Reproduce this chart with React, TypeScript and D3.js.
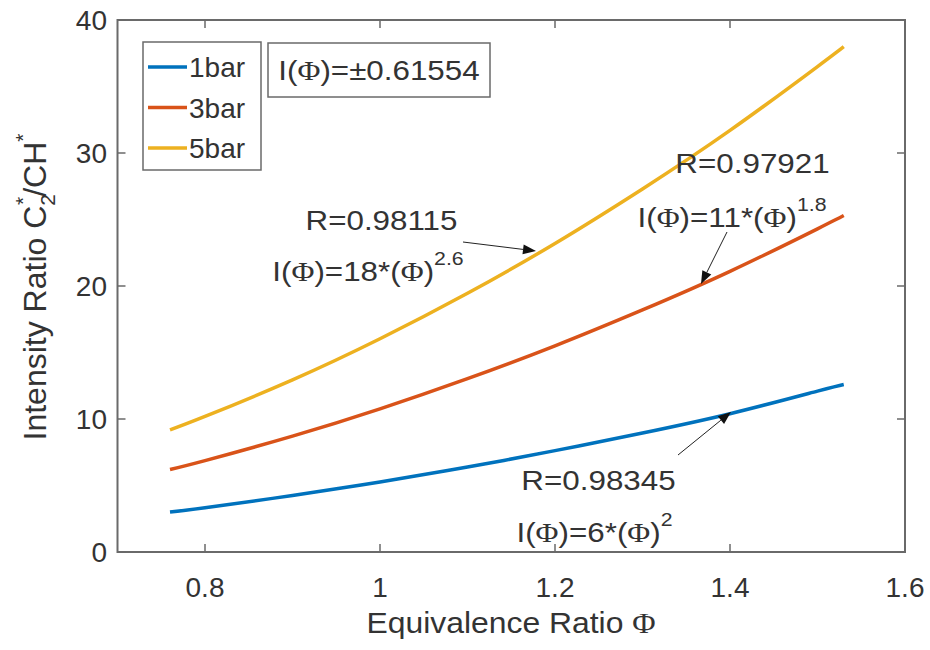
import React from "react";
import * as d3 from "d3";

const phi = [0.76, 0.8, 0.9, 1.0, 1.1, 1.2, 1.3, 1.4, 1.5, 1.53];
const bar1 = [3.0, 3.33, 4.25, 5.27, 6.39, 7.62, 8.95, 10.4, 12.1, 12.6];
const bar3 = [6.2, 6.87, 8.71, 10.76, 13.03, 15.5, 18.2, 21.1, 24.3, 25.3];
const bar5 = [9.18, 10.19, 12.94, 16.03, 19.45, 23.2, 27.3, 31.7, 36.5, 38.0];
const seriesNames = ["1bar", "3bar", "5bar"];
const seriesColors = ["#0072BD", "#D95319", "#EDB120"];
const xTicks = [0.8, 1.0, 1.2, 1.4, 1.6];
const xTickLabels = ["0.8", "1", "1.2", "1.4", "1.6"];
const yTicks = [0, 10, 20, 30, 40];
const yTickLabels = ["0", "10", "20", "30", "40"];

const W = 930, H = 650;
const L = 117.5, R = 905, T = 20, B = 552;
const FONT = "'Liberation Sans', Arial, Helvetica, sans-serif";
const SERIF = "'Liberation Serif', 'Times New Roman', serif";
const TXT = "#333";
const AX = "#6a6a6a";
const SX = 1.12;

export default function App() {
  const x = d3.scaleLinear().domain([0.7, 1.6]).range([L, R]);
  const y = d3.scaleLinear().domain([0, 40]).range([B, T]);
  const line = d3
    .line<number>()
    .x((_, i) => x(phi[i]))
    .y((d) => y(d))
    .curve(d3.curveNatural);
  const series = [bar1, bar3, bar5];

  const Phi = () => <tspan fontFamily={SERIF}>Φ</tspan>;

  const arrow = (x1: number, y1: number, x2: number, y2: number, key: string) => {
    const ang = Math.atan2(y2 - y1, x2 - x1);
    const len = 13, wid = 5;
    const bx = x2 - len * Math.cos(ang), by = y2 - len * Math.sin(ang);
    const px = -Math.sin(ang) * wid, py = Math.cos(ang) * wid;
    return (
      <g key={key}>
        <line x1={x1} y1={y1} x2={bx} y2={by} stroke="#222" strokeWidth={1} />
        <path d={`M${x2},${y2}L${bx + px},${by + py}L${bx - px},${by - py}Z`} fill="#111" />
      </g>
    );
  };

  const stretched = (cx: number, by: number, key: string, children: React.ReactNode) => (
    <text key={key} transform={`translate(${cx},${by}) scale(${SX},1)`} textAnchor="middle"
      fontSize={28} fill={TXT}>
      {children}
    </text>
  );

  return (
    <svg width={W} height={H} style={{ position: "absolute", left: 0, top: 0, background: "#fff" }}
      fontFamily={FONT}>
      <rect x={0} y={0} width={W} height={H} fill="#fff" />
      {series.map((s, i) => (
        <path key={i} d={line(s) || ""} fill="none" stroke={seriesColors[i]} strokeWidth={3.5} />
      ))}
      <rect x={L} y={T} width={R - L} height={B - T} fill="none" stroke={AX} strokeWidth={2} />
      {xTicks.map((t, i) => (
        <g key={"xt" + i}>
          <line x1={x(t)} x2={x(t)} y1={B} y2={B - 8} stroke={AX} strokeWidth={1.5} />
          <line x1={x(t)} x2={x(t)} y1={T} y2={T + 8} stroke={AX} strokeWidth={1.5} />
          <text x={x(t)} y={597} textAnchor="middle" fontSize={28} fill={TXT}>{xTickLabels[i]}</text>
        </g>
      ))}
      {yTicks.map((t, i) => (
        <g key={"yt" + i}>
          <line x1={L} x2={L + 8} y1={y(t)} y2={y(t)} stroke={AX} strokeWidth={1.5} />
          <line x1={R} x2={R - 8} y1={y(t)} y2={y(t)} stroke={AX} strokeWidth={1.5} />
          <text x={107} y={y(t) + 10} textAnchor="end" fontSize={28} fill={TXT}>{yTickLabels[i]}</text>
        </g>
      ))}
      <text transform={`translate(511,633) scale(1.1,1)`} textAnchor="middle" fontSize={29} fill={TXT}>
        Equivalence Ratio <Phi />
      </text>
      <text transform="translate(46,287) rotate(-90)" textAnchor="middle" fontSize={32} fill={TXT}>
        Intensity Ratio C<tspan fontSize={21} dy={9}>2</tspan>
        <tspan fontSize={21} dy={-25} dx={-11}>*</tspan>
        <tspan dy={16}>/CH</tspan>
        <tspan fontSize={21} dy={-16}>*</tspan>
      </text>
      <rect x={143} y={42} width={118} height={128} fill="#fff" stroke={AX} strokeWidth={1.5} />
      {seriesNames.map((n, i) => (
        <g key={n}>
          <line x1={148} x2={187} y1={67 + i * 40.5} y2={67 + i * 40.5} stroke={seriesColors[i]} strokeWidth={3.5} />
          <text x={189} y={77 + i * 40.5} fontSize={28} fill={TXT}>{n}</text>
        </g>
      ))}
      <rect x={268} y={43} width={222} height={54} fill="#fff" stroke={AX} strokeWidth={1.5} />
      {stretched(379, 80, "box", <>I(<Phi />)=±0.61554</>)}
      {stretched(381.5, 230, "r5", "R=0.98115")}
      {stretched(368, 281, "f5", <>I(<Phi />)=18*(<Phi />)<tspan fontSize={19} dy={-16}>2.6</tspan></>)}
      {arrow(463, 242, 536, 251, "a1")}
      {stretched(752.5, 173, "r3", "R=0.97921")}
      {stretched(732, 227, "f3", <>I(<Phi />)=11*(<Phi />)<tspan fontSize={19} dy={-16}>1.8</tspan></>)}
      {arrow(727, 232, 701, 284, "a2")}
      {stretched(598.5, 490, "r1", "R=0.98345")}
      {stretched(594.5, 542, "f1", <>I(<Phi />)=6*(<Phi />)<tspan fontSize={19} dy={-16}>2</tspan></>)}
      {arrow(678, 455, 731, 412, "a3")}
    </svg>
  );
}
